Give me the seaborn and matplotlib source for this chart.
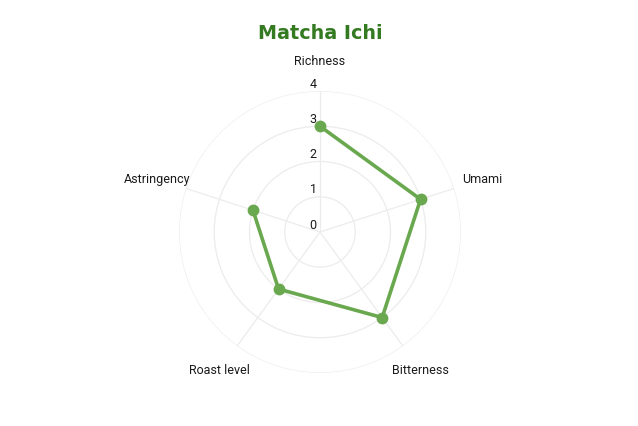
import numpy as np
import pandas as pd
import matplotlib
matplotlib.use('Agg')
import matplotlib.pyplot as plt
import seaborn as sns

# chart data
categories = ['Richness', 'Umami', 'Bitterness', 'Roast level', 'Astringency']
scores = [3, 3, 3, 2, 2]
ticks = [0, 1, 2, 3, 4]
title = 'Matcha Ichi'

line_color = '#6aa84f'
title_color = '#347a21'
grid_color = '#ececec'

sns.set_theme(style='white')
plt.rcParams['font.family'] = ['Roboto', 'DejaVu Sans']

# angles going clockwise from the top, close the shape
angles = np.linspace(0, 2 * np.pi, len(categories), endpoint=False)
df = pd.DataFrame({'angle': list(angles) + [angles[0]],
                   'score': scores + [scores[0]]})

fig = plt.figure(figsize=(6.38, 4.26), dpi=100)
ax = fig.add_axes([179 / 638, 53 / 426, 282 / 638, 282 / 426], projection='polar')
ax.set_theta_zero_location('N')
ax.set_theta_direction(-1)

sns.lineplot(data=df, x='angle', y='score', sort=False, ax=ax, color=line_color,
             linewidth=2.6, marker='o', markersize=8.5, markeredgewidth=0,
             zorder=5, clip_on=False)

ax.set_ylim(0, 4)
ax.set_yticks(ticks[1:])
ax.set_yticklabels([])
ax.set_xticks(angles)
ax.set_xticklabels([])
ax.grid(True, color=grid_color, linewidth=0.9)
ax.spines['polar'].set_visible(False)
ax.set_xlabel('')
ax.set_ylabel('')

# scale numbers along the top spoke
for t in ticks:
    ax.annotate(str(t), xy=(0, t), xytext=(-5, 5), textcoords='offset points',
                ha='center', va='center', fontsize=9, color='#1a1a1a', zorder=4)

# category names around the outside
for a, name in zip(angles, categories):
    ax.text(a, 4.85, name, ha='center', va='center', fontsize=9, color='#1a1a1a')

fig.text(320 / 638, 1 - 33.5 / 426, title, ha='center', va='center', fontsize=13.8,
         fontweight='bold', family='DejaVu Sans', color=title_color)

fig.savefig('out.png', dpi=100, facecolor='white')
